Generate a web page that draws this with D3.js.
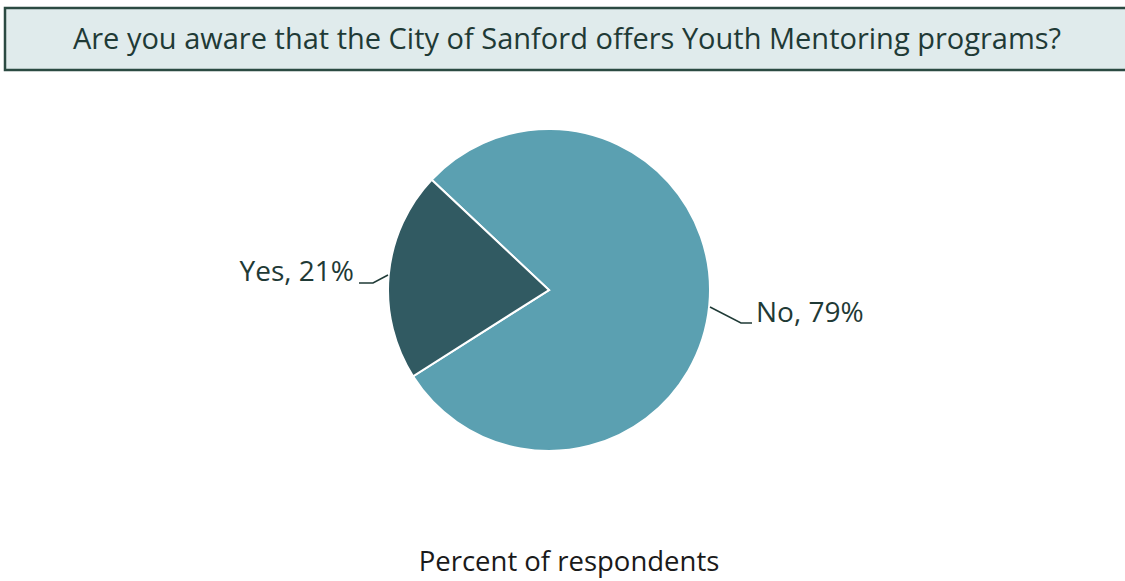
<!DOCTYPE html>
<html>
<head>
<meta charset="utf-8">
<script src="https://cdn.jsdelivr.net/npm/d3@7"></script>
<style>
  body { margin: 0; background: #fff; }
  svg { display: block; font-family: "Open Sans", "Noto Sans", sans-serif; }
</style>
</head>
<body>
<div id="chart"></div>
<script>
let categories = ["No", "Yes"];
let values = [79, 21];
let sliceColors = ["#5ba0b1", "#315a62"];
let chartTitle = "Are you aware that the City of Sanford offers Youth Mentoring programs?";
let axisTitle = "Percent of respondents";

let width = 1125, height = 581;
let cx = 549, cy = 290, radius = 161;

let svg = d3.select("#chart").append("svg")
    .attr("width", width)
    .attr("height", height);

// title box
svg.append("rect")
    .attr("x", 5).attr("y", 8)
    .attr("width", 1130).attr("height", 62)
    .attr("fill", "#e0ebec")
    .attr("stroke", "#2b4a42")
    .attr("stroke-width", 2.5);

svg.append("text")
    .attr("x", 567).attr("y", 41)
    .attr("text-anchor", "middle")
    .attr("dominant-baseline", "middle")
    .attr("font-size", "29px")
    .attr("fill", "#1f3a36")
    .text(chartTitle);

let data = categories.map((c, i) => ({ cat: c, val: values[i], color: sliceColors[i] }));

let pie = d3.pie()
    .sort(null)
    .value(d => d.val)
    .startAngle(-46.8 * Math.PI / 180)
    .endAngle((360 - 46.8) * Math.PI / 180);

let arc = d3.arc().innerRadius(0).outerRadius(radius);

let g = svg.append("g").attr("transform", "translate(" + cx + "," + cy + ")");

let arcs = pie(data);

g.selectAll("path")
    .data(arcs)
    .enter().append("path")
    .attr("d", arc)
    .attr("fill", d => d.data.color)
    .attr("stroke", "#fff")
    .attr("stroke-width", 2);

// labels with leader lines
let labelPos = {
    "No": { line: [[161, 17], [192, 33], [203, 33]], text: [207, 25], anchor: "start" },
    "Yes": { line: [[-161, -15], [-176, -7], [-190, -7]], text: [-195, -16], anchor: "end" }
};

arcs.forEach(a => {
    let p = labelPos[a.data.cat];
    g.append("path")
        .attr("d", d3.line()(p.line))
        .attr("fill", "none")
        .attr("stroke", "#1f3a36")
        .attr("stroke-width", 1.5);
    g.append("text")
        .attr("x", p.text[0]).attr("y", p.text[1])
        .attr("text-anchor", p.anchor)
        .attr("dominant-baseline", "middle")
        .attr("font-size", "28px")
        .attr("fill", "#1f3a36")
        .text(a.data.cat + ", " + a.data.val + "%");
});

svg.append("text")
    .attr("x", 569).attr("y", 564)
    .attr("text-anchor", "middle")
    .attr("dominant-baseline", "middle")
    .attr("font-size", "27.5px")
    .attr("fill", "#1a1a1a")
    .text(axisTitle);
</script>
</body>
</html>
